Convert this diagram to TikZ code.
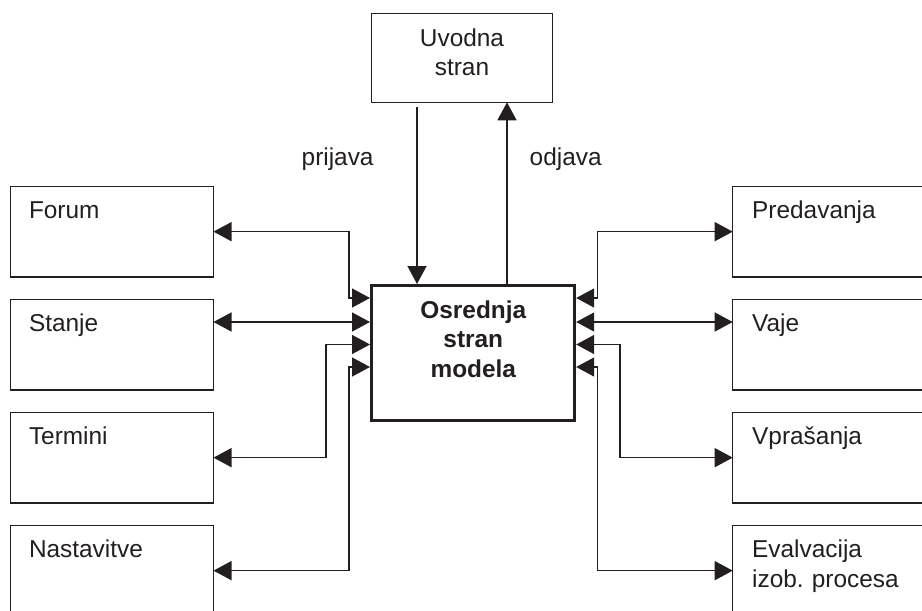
\documentclass[tikz,border=0pt]{standalone}
\usepackage{fontspec}
\setmainfont{Liberation Sans}
\usetikzlibrary{arrows.meta}
\definecolor{ink}{HTML}{231F20}
\frenchspacing
\tikzset{
  box/.style={draw=ink, line width=1.4pt, rectangle, outer sep=0pt, inner sep=0pt,
    minimum width=203pt, minimum height=90.3pt, anchor=north west},
  topbox/.style={draw=ink, line width=1.4pt, rectangle, outer sep=0pt, inner sep=0pt,
    minimum width=180.6pt, minimum height=89pt},
  mainbox/.style={draw=ink, line width=3pt, rectangle, inner sep=0pt,
    minimum width=203.2pt, minimum height=135.2pt},
  txt/.style={text=ink, font=\fontsize{24.4}{29.5}\selectfont, inner sep=0pt,
    anchor=base west, text width=190pt, align=left},
  ctxt/.style={text=ink, font=\fontsize{24.4}{29.5}\selectfont, inner sep=0pt,
    anchor=base, text width=190pt, align=center},
  conn/.style={draw=ink, line width=1.5pt},
  >={Triangle[length=18pt,width=19pt]},
}
\begin{document}
\begin{tikzpicture}[x=1pt,y=-1pt]
\useasboundingbox (0,0) rectangle (922,611);
\clip (0,0) rectangle (922,611);
\fill[white] (0,0) rectangle (922,611);

% boxes
\node[topbox] (uvod) at (462,57.8) {};
\node[mainbox] (centre) at (473.1,353.1) {};
\node[box] (forum) at (10.5,186.5) {};
\node[box] (stanje) at (10.5,299.5) {};
\node[box] (termini) at (10.5,412.5) {};
\node[box] (nast) at (10.5,525.5) {};
\node[box] (pred) at (732.7,186.5) {};
\node[box] (vaje) at (732.7,299.5) {};
\node[box] (vpr) at (732.7,412.5) {};
\node[box] (evalv) at (732.7,525.5) {};

% texts
\node[ctxt] (tuvod) at (462,46) {Uvodna\\stran};
\node[ctxt, font=\fontsize{24.4}{29.5}\selectfont\bfseries] (tcentre) at (473.3,318) {Osrednja\\stran\\modela};
\node[txt] (tforum) at (28.8,218) {Forum};
\node[txt] (tstanje) at (28.8,331.5) {Stanje};
\node[txt] (ttermini) at (28.8,444.5) {Termini};
\node[txt] (tnast) at (28.8,557.5) {Nastavitve};
\node[txt] (tpred) at (752,218.5) {Predavanja};
\node[txt] (tvaje) at (752,331.5) {Vaje};
\node[txt] (tvpr) at (752,444.5) {Vprašanja};
\node[txt] (tevalv) at (752,557.5) {Evalvacija\\izob. procesa};
\node[txt, text width=] (tprij) at (301.5,165) {prijava};
\node[txt, text width=] (todj) at (529.5,165) {odjava};

% helper coordinates
\coordinate (y1) at (0,298);
\coordinate (y2) at (0,322);
\coordinate (y3) at (0,344.5);
\coordinate (y4) at (0,367);
\coordinate (L1) at (349,0);
\coordinate (L2) at (326,0);
\coordinate (R1) at (597.3,0);
\coordinate (R2) at (620,0);
\coordinate (xp) at (417,0);
\coordinate (xo) at (507,0);

% top connectors
\draw[conn,->,shorten <=4.5pt] (xp |- uvod.south) -- (xp |- centre.north);
\draw[conn,->] (xo |- centre.north) -- (xo |- uvod.south);

% left connectors
\draw[conn,<->] (centre.west |- y1) -| (L1 |- forum.east) -- (forum.east);
\draw[conn,<->] (centre.west |- y2) -- (stanje.east |- y2);
\draw[conn,<->] (centre.west |- y3) -| (L2 |- termini.east) -- (termini.east);
\draw[conn,<->] (centre.west |- y4) -| (L1 |- nast.east) -- (nast.east);

% right connectors
\draw[conn,<->] (centre.east |- y1) -| (R1 |- pred.west) -- (pred.west);
\draw[conn,<->] (centre.east |- y2) -- (vaje.west |- y2);
\draw[conn,<->] (centre.east |- y3) -| (R2 |- vpr.west) -- (vpr.west);
\draw[conn,<->] (centre.east |- y4) -| (R1 |- evalv.west) -- (evalv.west);
\end{tikzpicture}
\end{document}
